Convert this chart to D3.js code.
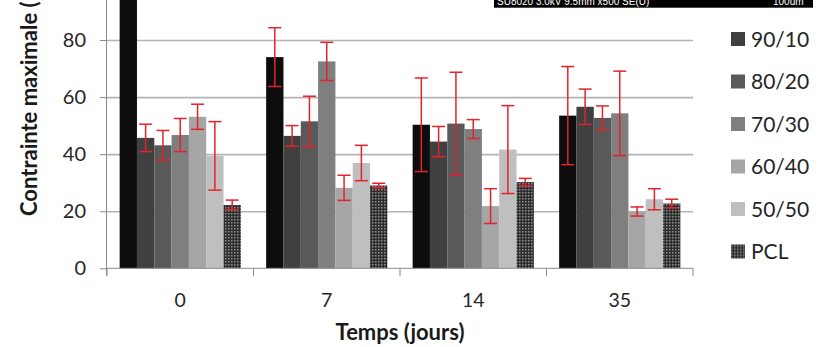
<!DOCTYPE html>
<html>
<head>
<meta charset="utf-8">
<script src="https://cdn.jsdelivr.net/npm/d3@7"></script>
<style>
  body { margin: 0; background: #fff; }
  svg { display: block; font-family: Lato, "Open Sans", sans-serif; }
</style>
</head>
<body>
<svg></svg>
<script>
const categories = ["0", "7", "14", "35"];
const seriesNames = ["100/0", "90/10", "80/20", "70/30", "60/40", "50/50", "PCL"];
// mean values per series, one entry per category
const means = [
    [102, 74.0, 50.3, 53.5],
    [45.7, 46.4, 44.4, 56.6],
    [43.1, 51.5, 50.7, 52.7],
    [46.7, 72.5, 48.8, 54.3],
    [53.1, 28.2, 21.8, 19.9],
    [39.4, 36.9, 41.6, 24.2],
    [22.2, 29.0, 30.2, 22.7]
];
// error bar half-lengths
const errors = [
    [0, 10.3, 16.4, 17.2],
    [4.8, 3.6, 5.3, 6.2],
    [5.2, 8.8, 18.0, 4.2],
    [5.8, 6.7, 3.3, 14.8],
    [4.4, 4.4, 6.1, 1.6],
    [12.0, 6.2, 15.4, 3.7],
    [1.7, 0.8, 1.3, 1.5]
];
const yTicks = [0, 20, 40, 60, 80, 100];
const colors = ["#0d0d0d", "#404040", "#595959", "#7f7f7f", "#a6a6a6", "#bfbfbf", "url(#pcl)"];

const svg = d3.select('svg')
    .attr('width', 821)
    .attr('height', 347);

// dotted fill used for the PCL bars
const pat = svg.append('defs').append('pattern')
    .attr('id', 'pcl')
    .attr('width', 3)
    .attr('height', 3)
    .attr('patternUnits', 'userSpaceOnUse');
pat.append('rect').attr('width', 3).attr('height', 3).attr('fill', '#2e2e2e');
pat.append('rect').attr('width', 1.5).attr('height', 1.5).attr('fill', '#8f8f8f');

// plot area: the top of the original figure is cut off, so 100 sits above the frame
const left = 107, right = 693;
const yScale = d3.scaleLinear()
    .domain([0, 80])
    .range([268.3, 40]);

const xScale = d3.scaleBand()
    .domain(categories)
    .range([left, right])
    .padding(0);

const inner = d3.scaleBand()
    .domain(d3.range(seriesNames.length))
    .range([0, xScale.bandwidth()])
    .paddingInner(0)
    .paddingOuter(0.73);

// grid lines
svg.append('g')
    .attr('transform', `translate(${left}, 0)`)
    .call(d3.axisLeft(yScale)
        .tickValues(yTicks.filter(t => t > 0))
        .tickSize(-(right - left))
        .tickFormat(''))
    .call(g => g.select('.domain').remove())
    .call(g => g.selectAll('line').attr('stroke', '#b4b4b4').attr('stroke-width', 1.6));

// bars
const rows = [];
seriesNames.forEach((s, i) => {
    categories.forEach((c, j) => {
        rows.push({ s: i, cat: c, v: means[i][j], e: errors[i][j] });
    });
});

svg.append('g')
    .selectAll('rect')
    .data(rows)
    .enter()
    .append('rect')
    .attr('x', d => xScale(d.cat) + inner(d.s))
    .attr('y', d => yScale(d.v))
    .attr('width', inner.bandwidth())
    .attr('height', d => yScale(0) - yScale(d.v))
    .attr('fill', d => colors[d.s]);

// error bars
const errG = svg.append('g')
    .attr('stroke', '#e3232c')
    .attr('stroke-width', 1.5)
    .attr('fill', 'none');
const errRows = rows.filter(d => d.e > 0);
const cx = d => xScale(d.cat) + inner(d.s) + inner.bandwidth() / 2;
errG.selectAll('.stem')
    .data(errRows)
    .enter()
    .append('line')
    .attr('x1', cx).attr('x2', cx)
    .attr('y1', d => yScale(d.v + d.e))
    .attr('y2', d => yScale(d.v - d.e));
errG.selectAll('.capTop')
    .data(errRows)
    .enter()
    .append('line')
    .attr('x1', d => cx(d) - 6.5).attr('x2', d => cx(d) + 6.5)
    .attr('y1', d => yScale(d.v + d.e))
    .attr('y2', d => yScale(d.v + d.e));
errG.selectAll('.capBot')
    .data(errRows)
    .enter()
    .append('line')
    .attr('x1', d => cx(d) - 6.5).attr('x2', d => cx(d) + 6.5)
    .attr('y1', d => yScale(d.v - d.e))
    .attr('y2', d => yScale(d.v - d.e));

// y axis
svg.append('g')
    .attr('transform', `translate(${left}, 0)`)
    .call(d3.axisLeft(yScale).tickValues(yTicks).tickSize(7).tickPadding(14))
    .call(g => g.select('.domain').attr('stroke', '#8a8a8a').attr('d', `M-0.5,${yScale(0) + 7}V${yScale(100)}`))
    .call(g => g.selectAll('line').attr('stroke', '#8a8a8a'))
    .call(g => g.selectAll('text').attr('font-size', 20).attr('fill', '#262626').attr('font-family', 'Lato, sans-serif'));

// x axis with ticks at category boundaries
const xAxis = svg.append('g')
    .attr('transform', `translate(0, ${yScale(0)})`);
xAxis.append('line')
    .attr('x1', left).attr('x2', right)
    .attr('stroke', '#8a8a8a');
xAxis.selectAll('.bound')
    .data(categories.concat(['end']))
    .enter()
    .append('line')
    .attr('x1', d => d === 'end' ? right : xScale(d))
    .attr('x2', d => d === 'end' ? right : xScale(d))
    .attr('y2', 8)
    .attr('stroke', '#8a8a8a');
xAxis.selectAll('text')
    .data(categories)
    .enter()
    .append('text')
    .attr('x', d => xScale(d) + xScale.bandwidth() / 2)
    .attr('y', 38.5)
    .attr('text-anchor', 'middle')
    .attr('font-size', 19.5)
    .attr('fill', '#262626')
    .text(d => d);

// axis titles
svg.append('text')
    .attr('x', 400)
    .attr('y', 340)
    .attr('text-anchor', 'middle')
    .attr('font-size', 22)
    .attr('font-weight', 'bold')
    .attr('fill', '#1a1a1a')
    .text('Temps (jours)');

svg.append('text')
    .attr('transform', 'translate(37, 216) rotate(-90)')
    .attr('text-anchor', 'start')
    .attr('font-size', 22)
    .attr('font-weight', 'bold')
    .attr('fill', '#1a1a1a')
    .text('Contrainte maximale (MPa)');

// legend
const legend = svg.append('g')
    .selectAll('g')
    .data(seriesNames)
    .enter()
    .append('g')
    .attr('transform', (d, i) => `translate(731, ${-3.5 + i * 42.5})`);
legend.append('rect')
    .attr('y', -7)
    .attr('width', 14)
    .attr('height', 14)
    .attr('fill', (d, i) => colors[i]);
legend.append('text')
    .attr('x', 20)
    .attr('y', 7.5)
    .attr('font-size', 21)
    .attr('fill', '#262626')
    .text(d => d);

// strip of the neighbouring micrograph caption left in the crop
svg.append('rect')
    .attr('x', 494)
    .attr('y', 0)
    .attr('width', 319)
    .attr('height', 7.7)
    .attr('fill', '#000');
svg.append('text')
    .attr('x', 497)
    .attr('y', 5)
    .attr('font-size', 10)
    .attr('font-family', 'Liberation Sans, sans-serif')
    .attr('fill', '#fff')
    .text('SU8020 3.0kV 9.5mm x500 SE(U)');
svg.append('text')
    .attr('x', 773)
    .attr('y', 5)
    .attr('font-size', 10)
    .attr('font-family', 'Liberation Sans, sans-serif')
    .attr('fill', '#fff')
    .text('100um');
</script>
</body>
</html>
